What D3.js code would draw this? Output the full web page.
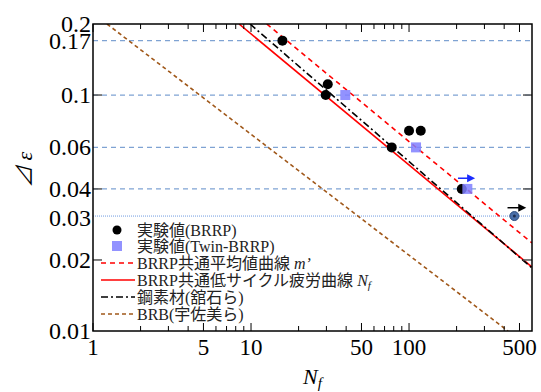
<!DOCTYPE html>
<html>
<head>
<meta charset="utf-8">
<script src="https://cdn.jsdelivr.net/npm/d3@7"></script>
<style>
  body { margin: 0; background: #fff; }
  text { font-family: 'Liberation Serif', 'Noto Sans CJK JP', serif; }
</style>
</head>
<body>
<div id="chart"></div>
<script>
// experimental values (BRRP)
const expN  = [15.8, 30.6, 29.7, 100, 118.6, 77.7, 215.6];
const expDe = [0.17, 0.111, 0.1, 0.0706, 0.0706, 0.06, 0.04];
// run-out specimen
const runN  = [464];
const runDe = [0.0307];
// experimental values (Twin-BRRP)
const twinN  = [39.5, 110.7, 233.9];
const twinDe = [0.1, 0.06, 0.04];
// arrows [N start, N end, strain]
const arrowBlue  = [204, 262, 0.0444];
const arrowBlack = [420, 552, 0.0333];
// curves, endpoints [N, strain]
const meanCurve  = [[12.57, 0.2], [600, 0.0236]];
const nfCurve    = [[8.4, 0.2], [600, 0.01867]];
const steelCurve = [[9.86, 0.2], [600, 0.0185]];
const brbCurve   = [[1.226, 0.2], [423, 0.01]];
// guide lines
const gridDash = [0.17, 0.1, 0.06, 0.04];
const gridDot  = [0.0307];
// ticks
const xLabels = [1, 5, 10, 50, 100, 500];
const xMinor  = [2, 3, 4, 6, 7, 8, 9, 20, 30, 40, 60, 70, 80, 90, 200, 300, 400];
const yLabels = [0.2, 0.17, 0.1, 0.06, 0.04, 0.03, 0.02, 0.01];
const yTicks  = [0.02, 0.04, 0.1];

const W = 541, H = 392;
const m = {left: 93, right: 9, top: 24, bottom: 61};

const svg = d3.select('#chart').append('svg')
  .attr('width', W).attr('height', H);

const x = d3.scaleLog().domain([1, 600]).range([m.left, W - m.right]);
const y = d3.scaleLog().domain([0.01, 0.2]).range([H - m.bottom, m.top]);

svg.append('clipPath').attr('id', 'clip')
  .append('rect')
  .attr('x', m.left).attr('y', m.top)
  .attr('width', W - m.left - m.right).attr('height', H - m.top - m.bottom);

const plot = svg.append('g').attr('clip-path', 'url(#clip)');

// horizontal guide lines
plot.selectAll('.gd').data(gridDash).enter().append('line')
  .attr('x1', m.left).attr('x2', W - m.right)
  .attr('y1', d => y(d)).attr('y2', d => y(d))
  .attr('stroke', '#7fa3d3').attr('stroke-width', 1.2)
  .attr('stroke-dasharray', '5,4');
plot.selectAll('.gdot').data(gridDot).enter().append('line')
  .attr('x1', m.left).attr('x2', W - m.right)
  .attr('y1', d => y(d)).attr('y2', d => y(d))
  .attr('stroke', '#6f9be0').attr('stroke-width', 1)
  .attr('stroke-dasharray', '1,1');

// curves
const line = d3.line().x(d => x(d[0])).y(d => y(d[1]));
const curves = [
  {data: brbCurve,   color: '#a0581a', dash: '4,3'},
  {data: meanCurve,  color: '#ff0000', dash: '5,4'},
  {data: nfCurve,    color: '#ff0000', dash: null},
  {data: steelCurve, color: '#000000', dash: '7,3,2,3'}
];
curves.forEach(c => {
  plot.append('path')
    .attr('d', line(c.data))
    .attr('fill', 'none')
    .attr('stroke', c.color)
    .attr('stroke-width', 1.6)
    .attr('stroke-dasharray', c.dash);
});

// points
plot.selectAll('.exp').data(expN).enter().append('circle')
  .attr('cx', d => x(d)).attr('cy', (d, i) => y(expDe[i]))
  .attr('r', 5).attr('fill', '#000');
plot.selectAll('.twin').data(twinN).enter().append('rect')
  .attr('x', d => x(d) - 5).attr('y', (d, i) => y(twinDe[i]) - 5)
  .attr('width', 10).attr('height', 10)
  .attr('fill', '#7f7fff').attr('fill-opacity', 0.85);
plot.selectAll('.run').data(runN).enter().append('circle')
  .attr('cx', d => x(d)).attr('cy', (d, i) => y(runDe[i]))
  .attr('r', 4.5).attr('fill', '#4a6fa8').attr('stroke', '#2f4f80').attr('stroke-width', 1);
plot.selectAll('.runc').data(runN).enter().append('circle')
  .attr('cx', d => x(d)).attr('cy', (d, i) => y(runDe[i]))
  .attr('r', 1.5).attr('fill', '#1f2f50');

// arrows
function arrow(a, color) {
  const x1 = x(a[0]), x2 = x(a[1]), yy = y(a[2]);
  svg.append('line').attr('x1', x1).attr('x2', x2 - 5).attr('y1', yy).attr('y2', yy)
    .attr('stroke', color).attr('stroke-width', 1.5);
  svg.append('path')
    .attr('d', `M${x2},${yy}L${x2 - 8},${yy - 4}L${x2 - 8},${yy + 4}Z`)
    .attr('fill', color);
}
arrow(arrowBlue, '#1a2cff');
arrow(arrowBlack, '#000');

// axes frame and ticks
const x0 = m.left, x1 = W - m.right, y0 = H - m.bottom, y1 = m.top;
const tickG = svg.append('g').attr('stroke', '#000').attr('stroke-width', 1);
xLabels.forEach(v => {
  tickG.append('line').attr('x1', x(v)).attr('x2', x(v)).attr('y1', y0).attr('y2', y0 - 8);
  tickG.append('line').attr('x1', x(v)).attr('x2', x(v)).attr('y1', y1).attr('y2', y1 + 8);
});
xMinor.forEach(v => {
  tickG.append('line').attr('x1', x(v)).attr('x2', x(v)).attr('y1', y0).attr('y2', y0 - 5);
  tickG.append('line').attr('x1', x(v)).attr('x2', x(v)).attr('y1', y1).attr('y2', y1 + 5);
});
yTicks.forEach(v => {
  svg.append('line').attr('x1', x0).attr('x2', x0 + 9).attr('y1', y(v)).attr('y2', y(v))
    .attr('stroke', '#555').attr('stroke-width', 1.5);
  svg.append('line').attr('x1', x1).attr('x2', x1 - 9).attr('y1', y(v)).attr('y2', y(v))
    .attr('stroke', '#555').attr('stroke-width', 1.5);
});
svg.append('rect')
  .attr('x', x0).attr('y', y1).attr('width', x1 - x0).attr('height', y0 - y1)
  .attr('fill', 'none').attr('stroke', '#000').attr('stroke-width', 1.5);

// tick labels
svg.selectAll('.xl').data(xLabels).enter().append('text')
  .attr('x', d => x(d)).attr('y', y0 + 24)
  .attr('text-anchor', 'middle').attr('font-size', 23)
  .text(d => d);
svg.selectAll('.yl').data(yLabels).enter().append('text')
  .attr('x', x0 - 2).attr('y', d => y(d) + 8)
  .attr('text-anchor', 'end').attr('font-size', 24)
  .text(d => d);

// axis titles
const xt = svg.append('text').attr('x', 303).attr('y', 384)
  .attr('font-size', 22).attr('font-style', 'italic');
xt.append('tspan').text('N');
xt.append('tspan').attr('font-size', 15).attr('dy', 4).text('f');

svg.append('text')
  .attr('transform', 'translate(32,170) rotate(-90)')
  .attr('text-anchor', 'middle').attr('font-size', 22).attr('font-style', 'italic')
  .text('⊿ ε');

// legend
const lg = svg.append('g');
const lx1 = 101, lx2 = 135, tx = 137;
const rows = [230, 246, 263, 280, 297, 314];
lg.append('circle').attr('cx', 117).attr('cy', rows[0]).attr('r', 4.5).attr('fill', '#000');
lg.append('rect').attr('x', 112).attr('y', rows[1] - 5).attr('width', 10).attr('height', 10)
  .attr('fill', '#7f7fff').attr('fill-opacity', 0.85);
[curves[1], curves[2], curves[3], curves[0]].forEach((c, i) => {
  lg.append('line').attr('x1', lx1).attr('x2', lx2)
    .attr('y1', rows[i + 2]).attr('y2', rows[i + 2])
    .attr('stroke', c.color).attr('stroke-width', 1.6)
    .attr('stroke-dasharray', c.dash);
});
const fs = 16;
function ltext(i) {
  return lg.append('text').attr('x', tx).attr('y', rows[i] + 6).attr('font-size', fs).attr('fill', '#222');
}
ltext(0).text('実験値(BRRP)');
ltext(1).text('実験値(Twin-BRRP)');
const t2 = ltext(2);
t2.append('tspan').text('BRRP共通平均値曲線 ');
t2.append('tspan').attr('font-style', 'italic').text('m’');
const t3 = ltext(3);
t3.append('tspan').text('BRRP共通低サイクル疲労曲線 ');
t3.append('tspan').attr('font-style', 'italic').text('N');
t3.append('tspan').attr('font-style', 'italic').attr('font-size', 11).attr('dy', 3).text('f');
ltext(4).text('鋼素材(舘石ら)');
ltext(5).text('BRB(宇佐美ら)');
</script>
</body>
</html>
